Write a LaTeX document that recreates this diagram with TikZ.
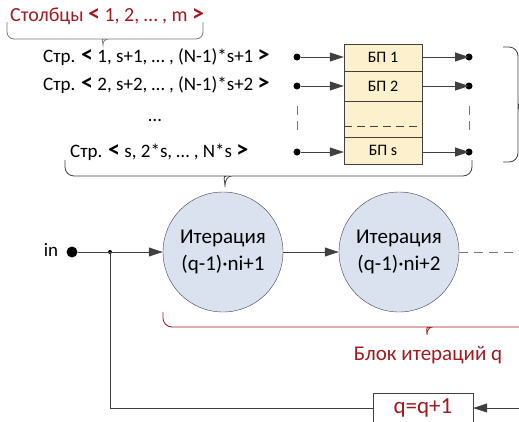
\documentclass[tikz,border=0pt]{standalone}
\usepackage{fontspec}
\setmainfont{Carlito}
\usepackage{tikz}
\usetikzlibrary{arrows.meta,positioning,calc}
\definecolor{mydark}{RGB}{64,64,64}
\definecolor{mygray}{RGB}{120,120,120}
\definecolor{myred}{RGB}{160,26,32}
\definecolor{mycell}{RGB}{253,241,205}
\definecolor{myiter}{RGB}{218,226,240}
\newcommand{\lang}{{\fontsize{24}{24}\selectfont\bfseries<}}
\newcommand{\rang}{{\fontsize{24}{24}\selectfont\bfseries>}}

\begin{document}
\begin{tikzpicture}[x=1pt,y=-1pt,
    lbl/.style={font=\fontsize{19}{22}\selectfont,inner sep=0pt},
    cell/.style={draw=mydark,fill=mycell,minimum width=78pt,inner sep=0pt,font=\fontsize{16}{18}\selectfont},
    iter/.style={circle,draw=mydark,fill=myiter,minimum size=120pt,inner sep=0pt,align=center,font=\fontsize{21}{27}\selectfont},
    pindot/.style={circle,fill=black,inner sep=0pt,minimum size=7pt},
    conn/.style={draw=mydark,line width=0.8pt},
    arr/.style={conn,-{Triangle[length=14pt,width=9pt]}},
  ]
  \useasboundingbox (0,0) rectangle (519,421);

  % columns and rows
  \node[lbl,anchor=west,text=myred,font=\fontsize{20}{22}\selectfont] (cols) at (10,16) {Столбцы \lang{} 1, 2, … , m \rang};
  \node[lbl,anchor=west] (row1) at (43,57) {Стр. \lang{} 1, s+1, … , (N-1)*s+1 \rang};
  \node[lbl,anchor=west] (row2) at (43,85) {Стр. \lang{} 2, s+2, … , (N-1)*s+2 \rang};
  \node[lbl] (rowdots) at (155,120) {…};
  \node[lbl,anchor=west] (rows) at (70,152) {Стр. \lang{} s, 2*s, … , N*s \rang};

  % buffer cells
  \node[cell,minimum height=27pt] (bp1) at (383,57.5) {БП 1};
  \node[cell,minimum height=30pt] (bp2) at (383,86) {БП 2};
  \node[cell,minimum height=36pt] (bpgap) at (383,119) {};
  \node[cell,minimum height=27pt] (bps) at (383,150.5) {БП s};
  \draw[mydark,dashed,dash pattern=on 8pt off 5pt] ($(bpgap.west)+(0,7)$) -- ($(bpgap.east)+(0,7)$);

  \node[pindot] (in1) at (297,57) {};
  \node[pindot] (in2) at (297,86) {};
  \node[pindot] (ins) at (297,152) {};
  \node[pindot] (out1) at (469,57) {};
  \node[pindot] (out2) at (469,86) {};
  \node[pindot] (outs) at (469,152) {};
  \draw[arr] (in1) -- (bp1.west |- in1);
  \draw[arr] (in2) -- (bp2.west |- in2);
  \draw[arr] (ins) -- (bps.west |- ins);
  \draw[arr] (bp1.east |- out1) -- (out1.center);
  \draw[arr] (bp2.east |- out2) -- (out2.center);
  \draw[arr] (bps.east |- outs) -- (outs.center);
  \draw[mygray,dashed,dash pattern=on 9pt off 6pt,line width=0.8pt] (297,106) -- (297,136);
  \draw[mygray,dashed,dash pattern=on 9pt off 6pt,line width=0.8pt] (469,106) -- (469,136);

  % braces
  \draw[mygray,line width=0.8pt,rounded corners=7pt] (7,22) -- (7,39) -- (97,39) [sharp corners] .. controls (101,39) and (103,41) .. (103,45) .. controls (103,41) and (105,39) .. (109,39) [rounded corners=7pt] -- (203,39) -- (203,22);
  \draw[mydark,line width=0.8pt,rounded corners=9pt] (65,160) -- (65,176) -- (218,176) [sharp corners] .. controls (222,176) and (225,179) .. (225,187) .. controls (225,179) and (228,176) .. (232,176) [rounded corners=9pt] -- (472,176) -- (472,160);
  \draw[mydark,line width=0.8pt,rounded corners=9pt] (503,47) -- (518,47) -- (518,98) [sharp corners] .. controls (518,102) and (521,104) .. (530,104) .. controls (521,104) and (518,106) .. (518,110) [rounded corners=9pt] -- (518,162) -- (503,162);
  \draw[myred,line width=0.8pt,rounded corners=9pt] (163,312) -- (163,327) -- (421,327) [sharp corners] .. controls (425,327) and (427,330) .. (427,335) .. controls (427,330) and (429,327) .. (433,327) -- (560,327);
  \node[lbl,text=myred,font=\fontsize{21}{24}\selectfont] (blk) at (428,355) {Блок итераций q};

  % iterations
  \node[iter] (it1) at (223,252) {Итерация\\(q-1)·ni+1};
  \node[iter] (it2) at (399,252) {Итерация\\(q-1)·ni+2};
  \node[lbl] (inlbl) at (51,250) {in};
  \node[pindot,minimum size=11pt] (inpt) at (72,252) {};
  \node[circle,fill=black,inner sep=0pt,minimum size=4pt] (jn) at (110,252) {};
  \coordinate (dashend) at (530,252);
  \draw[arr] (inpt) -- (it1);
  \draw[arr] (it1) -- (it2);
  \draw[conn,dashed,dash pattern=on 9pt off 6pt,mygray] (it2) -- (dashend);

  % loop back
  \node[draw=mydark,fill=white,minimum width=100pt,minimum height=30pt,inner sep=0pt,text=myred,font=\fontsize{23}{26}\selectfont] (qinc) at (423,408) {q=q+1};
  \coordinate (loopin) at (530,408);
  \draw[arr] (loopin) -- (qinc.east |- loopin);
  \draw[conn] (qinc.west |- loopin) -| (jn.center);
\end{tikzpicture}
\end{document}
